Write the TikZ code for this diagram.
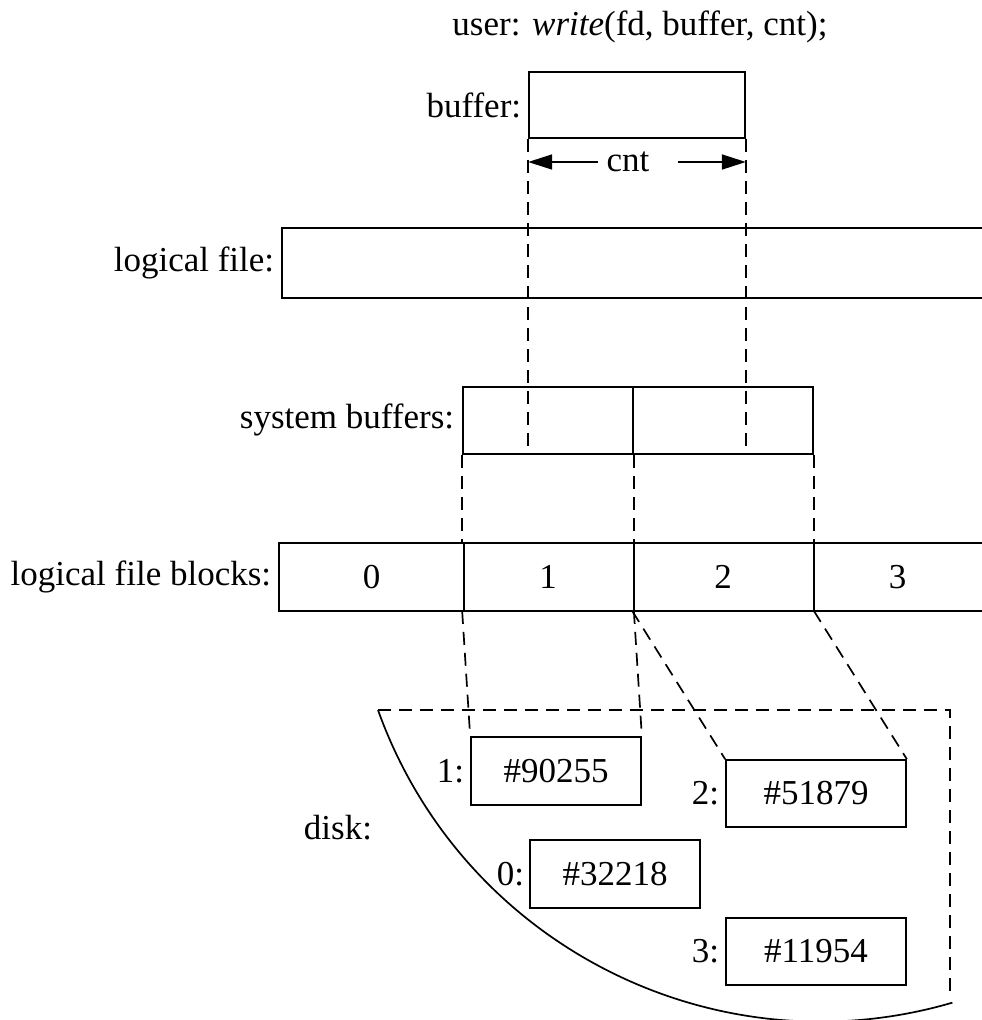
\documentclass[tikz,border=0pt]{standalone}
\usepackage{fontspec}
\setmainfont{Liberation Serif}
\usetikzlibrary{arrows.meta}
\begin{document}
\begin{tikzpicture}[x=1pt,y=-1pt,line width=1.7pt,
  every node/.style={font=\fontsize{35}{42}\selectfont},
  lab/.style={anchor=east, inner sep=0pt},
  box/.style={draw, inner sep=0pt},
  cell/.style={inner sep=0pt, minimum height=66pt},
  dsh/.style={dash pattern=on 13pt off 8pt},
  arr/.style={-{Triangle[length=24pt,width=15pt]}}]
\useasboundingbox (0,0) rectangle (982,1020);

% title
\node (title) at (640,27) {user: \textit{write}\/(fd, buffer, cnt);};

% user buffer
\node[lab] (lbuf) at (522,105) {buffer:};
\node[box, minimum width=216pt, minimum height=66pt] (buf) at (637,105) {};
\node (cnt) at (628,162) {cnt};
\coordinate (cl) at (598,162);
\coordinate (cr) at (678,162);
\draw[arr] (cl) -- (buf.south west |- cnt.center);
\draw[arr] (cr) -- (buf.south east |- cnt.center);

% logical file
\node[lab] (llf) at (275,263) {logical file:};
\node[inner sep=0pt, minimum width=699pt, minimum height=68pt] (lf) at (632.5,263) {};
\draw (lf.north east) -- (lf.north west) -- (lf.south west) -- (lf.south east);

% system buffers
\node[lab] (lsb) at (455,420) {system buffers:};
\node[box, minimum width=170pt, minimum height=67pt] (s1) at (548,420.5) {};
\node[box, minimum width=180pt, minimum height=67pt] (s2) at (723,420.5) {};

% dashed projection of user buffer
\draw[dsh] (buf.south west) -- (buf.south west |- s1.south);
\draw[dsh] (buf.south east) -- (buf.south east |- s1.south);

% logical file blocks
\node[lab] (lblk) at (272,577) {logical file blocks:};
\node[cell, minimum width=183pt] (c0) at (371.5,577) {0};
\node[cell, minimum width=170pt] (c1) at (548,577) {1};
\node[cell, minimum width=180pt] (c2) at (723,577) {2};
\node[cell, minimum width=169pt] (c3) at (897.5,577) {3};
\draw (c3.north east) -- (c0.north west) -- (c0.south west) -- (c3.south east);
\draw (c0.north east) -- (c0.south east);
\draw (c1.north east) -- (c1.south east);
\draw (c2.north east) -- (c2.south east);

% system buffers to blocks
\draw[dsh] (s1.south west) -- (c1.north west);
\draw[dsh] (s1.south east) -- (c1.north east);
\draw[dsh] (s2.south east) -- (c2.north east);

% disk
\coordinate (dk1) at (378,710);
\coordinate (dk2) at (950,710);
\coordinate (dk3) at (950,998);
\draw[dsh] (dk1) -- (dk2) -- (dk3);
\draw (dk1) arc[start angle=160.3, end angle=73.7, radius=470];
\node (ldisk) at (338,828) {disk:};

\node[box, minimum width=170pt, minimum height=68pt] (d1) at (556,771) {\#90255};
\node[lab] (l1) at (465,771) {1:};
\node[box, minimum width=180pt, minimum height=67pt] (d2) at (816,793.5) {\#51879};
\node[lab] (l2) at (720,793.5) {2:};
\node[box, minimum width=170pt, minimum height=68pt] (d0) at (615,874) {\#32218};
\node[lab] (l0) at (525,874) {0:};
\node[box, minimum width=180pt, minimum height=67pt] (d3) at (816,951.5) {\#11954};
\node[lab] (l3) at (720,951.5) {3:};

% blocks to disk
\draw[dsh] (c1.south west) -- (d1.north west);
\draw[dsh] (c1.south east) -- (d1.north east);
\draw[dsh] (c2.south west) -- (d2.north west);
\draw[dsh] (c2.south east) -- (d2.north east);
\end{tikzpicture}
\end{document}
